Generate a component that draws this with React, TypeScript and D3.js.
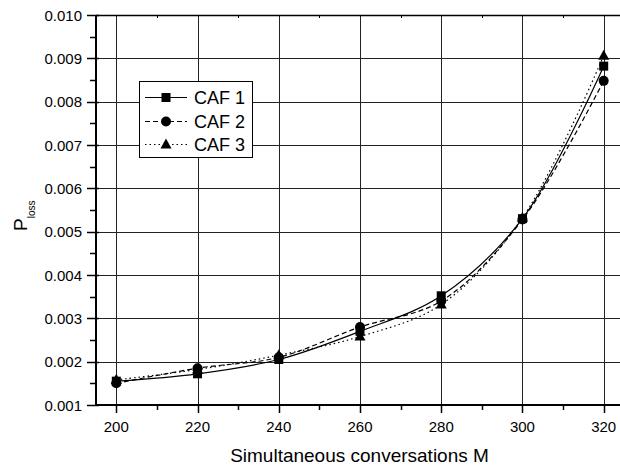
import React, { useEffect, useRef } from "react";
import * as d3 from "d3";

// Simultaneous conversations M
const conversations = [200, 220, 240, 260, 280, 300, 320];
// Loss probability per configuration
const caf1 = [0.00155, 0.00172, 0.00205, 0.0027, 0.00352, 0.0053, 0.00882];
const caf2 = [0.0015, 0.00185, 0.0021, 0.0028, 0.0034, 0.00528, 0.00848];
const caf3 = [0.00158, 0.00182, 0.00215, 0.00258, 0.00332, 0.00532, 0.00906];
const seriesNames = ["CAF 1", "CAF 2", "CAF 3"];
const xTicks = [200, 220, 240, 260, 280, 300, 320];
const yTicks = [0.001, 0.002, 0.003, 0.004, 0.005, 0.006, 0.007, 0.008, 0.009, 0.01];

const W = 620;
const H = 467;
const FONT = "Liberation Sans, Arial, sans-serif";

export default function App() {
  const ref = useRef<SVGSVGElement>(null);

  useEffect(() => {
    const svg = d3.select(ref.current);
    svg.selectAll("*").remove();

    const left = 96, right = 624, top = 15, bottom = 405;
    const x = d3.scaleLinear().domain([195, 325]).range([left, right]);
    const y = d3.scaleLinear().domain([0.001, 0.01]).range([bottom, top]);

    const g = svg.append("g");

    // grid
    g.selectAll(".gx").data(xTicks).enter().append("line")
      .attr("x1", d => Math.round(x(d)) + 0.5).attr("x2", d => Math.round(x(d)) + 0.5)
      .attr("y1", top).attr("y2", bottom)
      .attr("stroke", "#222").attr("stroke-width", 1);
    g.selectAll(".gy").data(yTicks).enter().append("line")
      .attr("x1", left).attr("x2", right)
      .attr("y1", d => Math.round(y(d)) + 0.5).attr("y2", d => Math.round(y(d)) + 0.5)
      .attr("stroke", "#222").attr("stroke-width", 1);

    // frame
    g.append("line").attr("x1", left).attr("x2", right).attr("y1", top + 0.5).attr("y2", top + 0.5)
      .attr("stroke", "#000").attr("stroke-width", 1.5);
    g.append("line").attr("x1", left).attr("x2", left).attr("y1", top).attr("y2", bottom + 1)
      .attr("stroke", "#000").attr("stroke-width", 2);
    g.append("line").attr("x1", left - 1).attr("x2", right).attr("y1", bottom).attr("y2", bottom)
      .attr("stroke", "#000").attr("stroke-width", 2);

    // x ticks
    const xMinor = d3.range(210, 325, 20);
    g.selectAll(".xt").data(xTicks).enter().append("line")
      .attr("x1", d => Math.round(x(d)) + 0.5).attr("x2", d => Math.round(x(d)) + 0.5)
      .attr("y1", bottom).attr("y2", bottom + 8)
      .attr("stroke", "#000").attr("stroke-width", 1.5);
    g.selectAll(".xm").data(xMinor).enter().append("line")
      .attr("x1", d => Math.round(x(d)) + 0.5).attr("x2", d => Math.round(x(d)) + 0.5)
      .attr("y1", bottom).attr("y2", bottom + 5)
      .attr("stroke", "#000").attr("stroke-width", 1.5);
    g.selectAll(".xtm").data(xMinor).enter().append("line")
      .attr("x1", d => Math.round(x(d)) + 0.5).attr("x2", d => Math.round(x(d)) + 0.5)
      .attr("y1", top).attr("y2", top + 3)
      .attr("stroke", "#000").attr("stroke-width", 1);
    g.selectAll(".xl").data(xTicks).enter().append("text")
      .attr("x", d => x(d)).attr("y", 432)
      .attr("text-anchor", "middle").attr("font-family", FONT).attr("font-size", 15)
      .text(d => String(d));

    // y ticks
    const yMinor = d3.range(0.0015, 0.01, 0.001);
    g.selectAll(".yt").data(yTicks).enter().append("line")
      .attr("x1", left - 9).attr("x2", left + 3)
      .attr("y1", d => Math.round(y(d)) + 0.5).attr("y2", d => Math.round(y(d)) + 0.5)
      .attr("stroke", "#000").attr("stroke-width", 1.5);
    g.selectAll(".ym").data(yMinor).enter().append("line")
      .attr("x1", left - 6).attr("x2", left)
      .attr("y1", d => Math.round(y(d)) + 0.5).attr("y2", d => Math.round(y(d)) + 0.5)
      .attr("stroke", "#000").attr("stroke-width", 1.5);
    g.selectAll(".yl").data(yTicks).enter().append("text")
      .attr("x", 82).attr("y", d => y(d) + 5.5)
      .attr("text-anchor", "end").attr("font-family", FONT).attr("font-size", 15)
      .text(d => d.toFixed(3));

    // axis titles
    g.append("text").attr("x", 359.5).attr("y", 461.5)
      .attr("text-anchor", "middle").attr("font-family", FONT).attr("font-size", 19)
      .text("Simultaneous conversations M");
    const yt = g.append("text").attr("transform", "translate(27,231) rotate(-90)")
      .attr("text-anchor", "start").attr("font-family", FONT).attr("font-size", 19);
    yt.append("tspan").text("P");
    yt.append("tspan").attr("font-size", 10).attr("dy", 8).text("loss");

    // series
    const data = [caf1, caf2, caf3];
    const dashes = [null, "5,3", "1.5,3"];
    const line = d3.line<number>()
      .x((_, i) => x(conversations[i]))
      .y(d => y(d))
      .curve(d3.curveCatmullRom.alpha(0.5));

    const drawMarker = (sel: any, kind: number, cx: number, cy: number) => {
      if (kind === 0) {
        sel.append("rect").attr("x", cx - 4.5).attr("y", cy - 4.5).attr("width", 9).attr("height", 9).attr("fill", "#000");
      } else if (kind === 1) {
        sel.append("circle").attr("cx", cx).attr("cy", cy).attr("r", 5).attr("fill", "#000");
      } else {
        sel.append("path").attr("d", `M${cx},${cy - 6}L${cx + 5.5},${cy + 4}L${cx - 5.5},${cy + 4}Z`).attr("fill", "#000");
      }
    };

    data.forEach((vals, k) => {
      g.append("path").attr("d", line(vals) as string)
        .attr("fill", "none").attr("stroke", "#000").attr("stroke-width", 1.2)
        .attr("stroke-dasharray", dashes[k]);
    });
    data.forEach((vals, k) => {
      vals.forEach((v, i) => drawMarker(g, k, x(conversations[i]), y(v)));
    });

    // legend
    const lg = g.append("g");
    lg.append("rect").attr("x", 139.5).attr("y", 81.5).attr("width", 113).attr("height", 76)
      .attr("fill", "#fff").attr("stroke", "#000").attr("stroke-width", 1);
    const rowsY = [97.5, 121.5, 144.5];
    seriesNames.forEach((name, k) => {
      lg.append("line").attr("x1", 145).attr("x2", 187).attr("y1", rowsY[k]).attr("y2", rowsY[k])
        .attr("stroke", "#000").attr("stroke-width", 1.2).attr("stroke-dasharray", dashes[k]);
      drawMarker(lg, k, 166, rowsY[k]);
      lg.append("text").attr("x", 194).attr("y", rowsY[k] + 6.5)
        .attr("font-family", FONT).attr("font-size", 18).text(name);
    });
  }, []);

  return (
    <svg ref={ref} width={W} height={H}
      style={{ position: "absolute", left: 0, top: 0, background: "#fff", display: "block" }} />
  );
}
